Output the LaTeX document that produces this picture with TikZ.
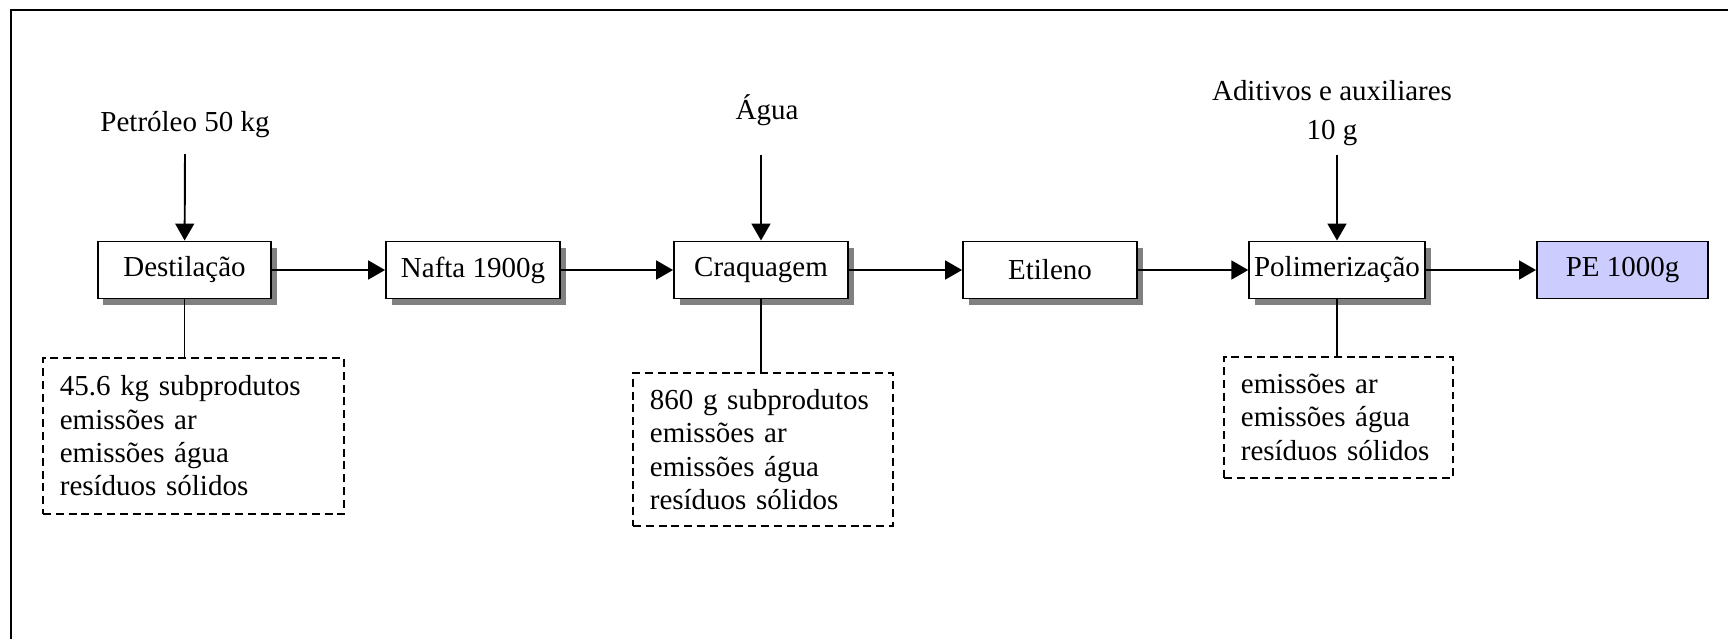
\documentclass[tikz,border=0pt]{standalone}
\usepackage{fontspec}
\setmainfont{Liberation Serif}
\usetikzlibrary{arrows.meta,positioning}

\begin{document}
\begin{tikzpicture}[
  x=0.414pt, y=-0.414pt,
  every node/.style={font=\fontsize{12}{13.8}\selectfont, inner sep=2pt},
  proc/.style ={draw=black, line width=0.8pt, fill=white,
                minimum width=72pt, minimum height=23.6pt,
                preaction={fill=black!50,
                           transform canvas={xshift=2.4pt, yshift=-2.5pt}}},
  prod/.style ={draw=black, line width=0.8pt, fill=blue!20,
                minimum width=70.8pt, minimum height=23.6pt},
  waste/.style={draw=black, line width=0.8pt, dash pattern=on 3.3pt off 2pt,
                align=left, inner xsep=7pt, inner ysep=2pt, anchor=north west},
  feed/.style ={align=center},
  flow/.style ={-{Triangle[length=7pt,width=7.8pt]}, line width=0.8pt},
  link/.style ={line width=0.8pt}]

\useasboundingbox (0,0) rectangle (1728,639);
\draw[line width=0.8pt] (11,639) -- (11,10) -- (1728,10);

% the process chain
\node[proc] (dest)  at (184.5,270) {Destilação};
\node[proc] (nafta) at (473,270)   {Nafta 1900g};
\node[proc] (craq)  at (761,270)   {Craquagem};
\node[proc] (etil)  at (1050,270)  {Etileno};
\node[proc] (polim) at (1337,270)  {Polimerização};
\node[prod] (pe)    at (1622.5,270) {PE 1000g};

\draw[flow] (dest) -- (nafta);
\draw[flow] (nafta) -- (craq);
\draw[flow] (craq) -- (etil);
\draw[flow] (etil) -- (polim);
\draw[flow] (polim) -- (pe);

% inputs
\node[feed] (petr) at (185,125)  {Petróleo 50 kg};
\node[feed] (agua) at (767,110)  {Água};
\node[feed] (adit) at (1332,113) {Aditivos e auxiliares\\[2pt] 10 g};
\coordinate (inA) at (185,154);
\coordinate (inB) at (761,155);
\coordinate (inC) at (1337,155);
\draw[flow] (inA) -- (dest);
\draw[flow] (inB) -- (craq);
\draw[flow] (inC) -- (polim);

% outputs
\node[waste, text width=110.6pt, minimum height=64.6pt] (w1) at (42,357)
  {45.6 kg subprodutos\\ emissões ar\\ emissões água\\ resíduos sólidos};
\node[waste, text width=93.6pt, minimum height=63.3pt] (w2) at (632,372)
  {860 g subprodutos\\ emissões ar\\ emissões água\\ resíduos sólidos};
\node[waste, text width=80.8pt, minimum height=50pt] (w3) at (1223,356)
  {emissões ar\\ emissões água\\ resíduos sólidos};

\draw[link] (dest.south) -- (dest.south |- w1.north);
\draw[link] (craq.south) -- (craq.south |- w2.north);
\draw[link] (polim.south) -- (polim.south |- w3.north);

\end{tikzpicture}
\end{document}
